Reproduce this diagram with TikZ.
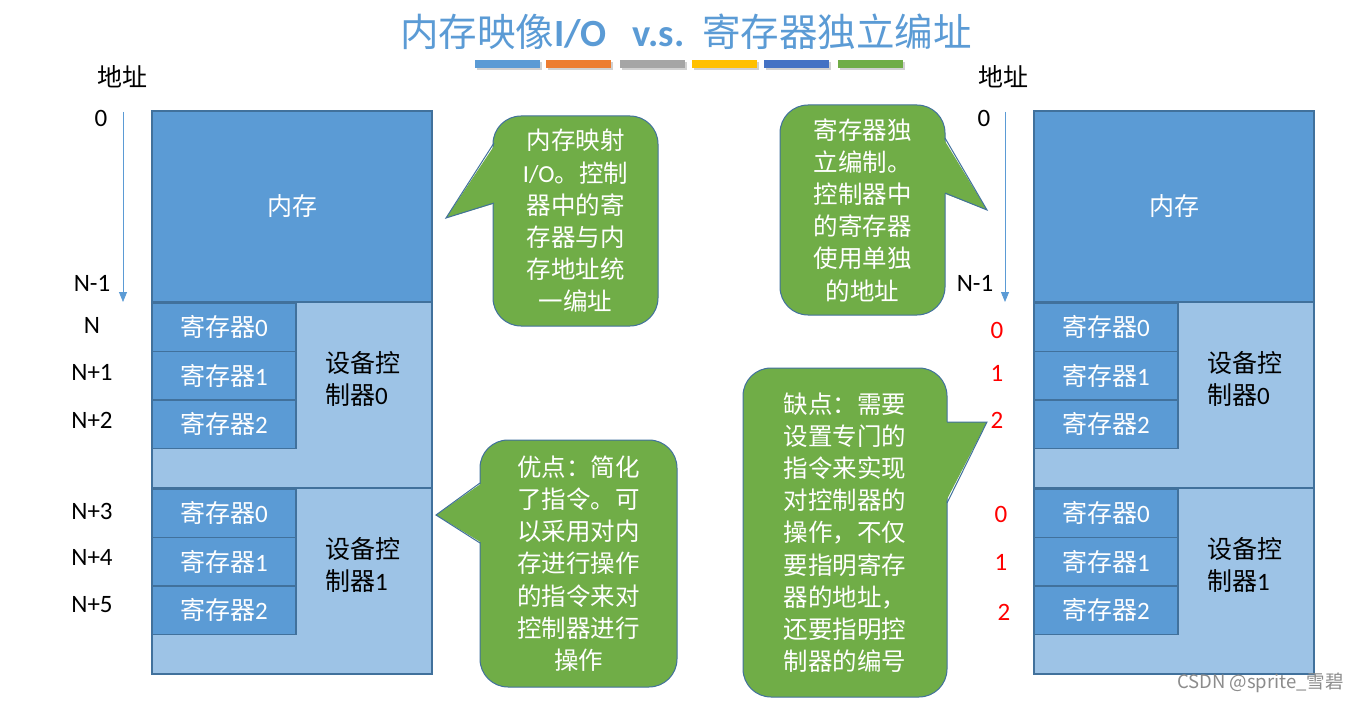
\documentclass[tikz,border=0pt]{standalone}
\usepackage{fontspec}
\setmainfont{Noto Sans CJK SC}
\newfontfamily\latin{Carlito}
\usepackage{xcolor}
\usetikzlibrary{arrows.meta}

\definecolor{memblue}{HTML}{5B9BD5}
\definecolor{ctlblue}{HTML}{9DC3E6}
\definecolor{edgeblue}{HTML}{41719C}
\definecolor{callgreen}{HTML}{70AD47}
\definecolor{barorange}{HTML}{ED7D31}
\definecolor{bargray}{HTML}{A5A5A5}
\definecolor{baryellow}{HTML}{FFC000}
\definecolor{bardblue}{HTML}{4472C4}

\newcommand\labfont{\fontsize{25}{32}\selectfont}
\newcommand\callfont{\fontsize{24.5}{32.2}\selectfont}

\tikzset{
	blockbox/.style={draw=edgeblue, line width=1.3pt, inner sep=0pt, outer sep=0pt, anchor=north west, font=\labfont},
	membox/.style={blockbox, fill=memblue, minimum width=280pt, minimum height=191pt, text=white},
	ctlbox/.style={blockbox, fill=ctlblue, minimum width=280pt, minimum height=186pt},
	regbox/.style={blockbox, fill=memblue, minimum width=144pt, minimum height=48.5pt, text=white},
	bubble/.style={draw=edgeblue, line width=1pt, fill=callgreen, rounded corners=28pt, text=white, align=center, inner sep=0pt, font=\callfont},
	addr/.style={font=\labfont, inner sep=0pt},
	addrarrow/.style={draw=memblue, line width=0.8pt, -{Triangle[width=8pt,length=10pt]}},
	tail/.style={draw=edgeblue, line width=1pt},
}

\begin{document}
\begin{tikzpicture}[x=1pt,y=-1pt]
	\fill[white] (0,0) rectangle (1359,703);
	\useasboundingbox (0,0) rectangle (1359,703);

	% title and colour bars
	\node[text=memblue, font=\fontsize{38.5}{40}\selectfont] (title) at (686,32)
		{内存映像{\latin\bfseries I/O}\hspace{26pt}{\latin\bfseries v.s.}\hspace{18pt}寄存器独立编址};
	\foreach \x/\c in {475/memblue,546/barorange,620/bargray,692/baryellow,764/bardblue,838/callgreen}{
		\fill[black!18] (\x+2,62) rectangle +(65,8);
		\fill[\c] (\x,60) rectangle +(65,8);
	}

	% the two address spaces
	\foreach \s/\dx in {L/0,R/882}{
		\node[membox] (mem\s) at (152+\dx,111) {内存};
		\foreach \c/\y in {0/302,1/488}{
			\node[ctlbox] (ctl\s\c) at (152+\dx,\y) {};
			\node[anchor=west, align=left, font=\labfont, inner sep=0pt] (ctltext\s\c) at (325+\dx,\y+77) {设备控\\制器{\latin\c}};
			\foreach \r in {0,1,2}
				\node[regbox] (reg\s\c\r) at (152+\dx,\y+1+48.5*\r) {寄存器{\latin\r}};
		}
	}

	% addresses, left
	\node[addr] (addrL) at (122,77) {地址};
	\node[addr] (zeroL) at (101,118) {\latin 0};
	\node[addr] (lastL) at (92,283) {\latin N-1};
	\foreach \t/\y [count=\i] in {N/325,N+1/372,N+2/420,N+3/511,N+4/557,N+5/605}
		\node[addr] (numL\i) at (92,\y) {\latin \t};
	\coordinate (arrLtop) at (123,112);
	\coordinate (arrLend) at (123,302);
	\draw[addrarrow] (arrLtop) -- (arrLend);

	% addresses, right
	\node[addr] (addrR) at (1003,77) {地址};
	\node[addr] (zeroR) at (984,118) {\latin 0};
	\node[addr] (lastR) at (975,283) {\latin N-1};
	\foreach \t/\x/\y [count=\i] in {0/997/330,1/997/373,2/997/420,0/1001/514,1/1001/562,2/1004/612}
		\node[addr, text=red] (numR\i) at (\x,\y) {\latin \t};
	\coordinate (arrRtop) at (1005,112);
	\coordinate (arrRend) at (1005,302);
	\draw[addrarrow] (arrRtop) -- (arrRend);

	% callouts
	\node[bubble, minimum width=165pt, minimum height=210pt] (noteMap) at (575.5,221)
		{内存映射\\{\latin I/O}。控制\\器中的寄\\存器与内\\存地址统\\一编址};
	\coordinate (tipMap) at (446,218);
	\fill[callgreen] (496,143) -- (tipMap) -- (496,203) -- cycle;
	\draw[tail] (494,143) -- (tipMap) -- (494,203);

	\node[bubble, minimum width=197pt, minimum height=247pt] (notePro) at (578.5,563.5)
		{优点：简化\\了指令。可\\以采用对内\\存进行操作\\的指令来对\\控制器进行\\操作};
	\coordinate (tipPro) at (436,515);
	\fill[callgreen] (482,483) -- (tipPro) -- (482,543) -- cycle;
	\draw[tail] (480,483) -- (tipPro) -- (480,543);

	\node[bubble, minimum width=165pt, minimum height=210pt] (noteSep) at (862.5,210)
		{寄存器独\\立编制。\\控制器中\\的寄存器\\使用单独\\的地址};
	\coordinate (tipSep) at (987,210);
	\fill[callgreen] (943,138) -- (tipSep) -- (943,193) -- cycle;
	\draw[tail] (945,138) -- (tipSep) -- (945,193);

	\node[bubble, minimum width=204pt, minimum height=329pt] (noteCon) at (845,532.5)
		{缺点：需要\\设置专门的\\指令来实现\\对控制器的\\操作，不仅\\要指明寄存\\器的地址，\\还要指明控\\制器的编号};
	\coordinate (tipCon) at (987,422);
	\fill[callgreen] (945,422) -- (tipCon) -- (945,503) -- cycle;
	\draw[tail] (947,422) -- (tipCon) -- (947,503);

	\node[text=black!45, font=\fontsize{18.5}{20}\selectfont, anchor=east, inner sep=0pt] (mark) at (1344,683) {CSDN @sprite\_雪碧};
\end{tikzpicture}
\end{document}
